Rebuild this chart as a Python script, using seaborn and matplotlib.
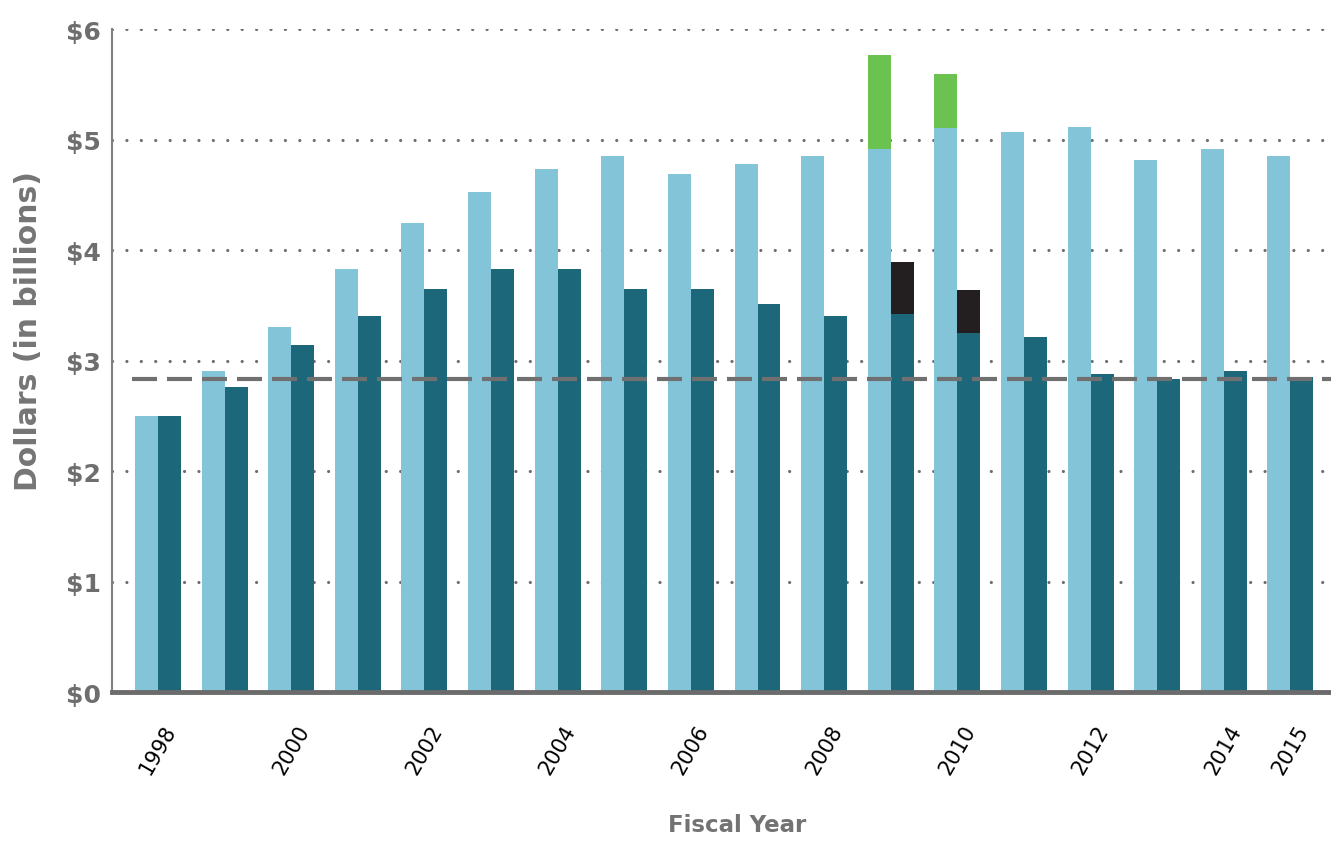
import pandas as pd
import seaborn as sns
import matplotlib.pyplot as plt

# Funding per fiscal year, dollars in billions
years = list(range(1998, 2016))
nominal = [2.50, 2.91, 3.31, 3.83, 4.25, 4.53, 4.74, 4.85, 4.69, 4.78,
           4.85, 4.92, 5.11, 5.07, 5.12, 4.82, 4.92, 4.85]
adjusted = [2.50, 2.76, 3.14, 3.41, 3.65, 3.83, 3.83, 3.65, 3.65, 3.51,
            3.41, 3.42, 3.25, 3.22, 2.88, 2.84, 2.91, 2.85]

# Recovery Act years: total including the extra funding
arra_years = [2009, 2010]
arra_nominal_total = [5.77, 5.60]
arra_adjusted_total = [3.89, 3.64]

reference_level = 2.84
tick_years = [1998, 2000, 2002, 2004, 2006, 2008, 2010, 2012, 2014, 2015]
y_ticks = [0, 1, 2, 3, 4, 5, 6]

LIGHT = "#83c4d8"
DARK = "#1d677b"
GREEN = "#6cc250"
BLACK = "#231f20"
GRAY = "#6e6e6e"

series_order = ["Nominal", "Adjusted"]
year_labels = [str(y) for y in years]

base = pd.DataFrame({
    "year": year_labels * 2,
    "series": ["Nominal"] * len(years) + ["Adjusted"] * len(years),
    "value": nominal + adjusted,
})
extra = pd.DataFrame({
    "year": [str(y) for y in arra_years] * 2,
    "series": ["Nominal"] * len(arra_years) + ["Adjusted"] * len(arra_years),
    "value": arra_nominal_total + arra_adjusted_total,
})

sns.set_theme(style="white")
plt.rcParams["font.family"] = ["DejaVu Sans"]

fig = plt.figure(figsize=(13.31, 8.45), dpi=100)
ax = fig.add_axes([0.0844, 0.1795, 0.9156, 0.7846])

# tops first, then the base bars drawn over them
sns.barplot(data=extra, x="year", y="value", hue="series", order=year_labels,
            hue_order=series_order, palette=[GREEN, BLACK], width=0.69,
            saturation=1, errorbar=None, legend=False, linewidth=0, ax=ax)
sns.barplot(data=base, x="year", y="value", hue="series", order=year_labels,
            hue_order=series_order, palette=[LIGHT, DARK], width=0.69,
            saturation=1, errorbar=None, legend=False, linewidth=0, ax=ax)

ax.axhline(reference_level, xmin=0.016, xmax=1, color="#707070", lw=3,
           linestyle=(0, (6, 2.4)), zorder=5)

ax.set_xlim(-0.686, 17.61)
ax.set_ylim(0, 6)

ax.set_axisbelow(True)
ax.grid(axis="y", color=GRAY, linewidth=2.3, linestyle=(0, (0.01, 4.5)),
        dash_capstyle="round")
ax.grid(axis="x", visible=False)

ax.set_yticks(y_ticks, [f"${v}" for v in y_ticks])
ax.set_xticks([years.index(y) for y in tick_years], [str(y) for y in tick_years],
              rotation=60, ha="center")
ax.tick_params(axis="y", length=0, pad=8, labelsize=18, labelcolor=GRAY)
ax.tick_params(axis="x", length=0, pad=21, labelsize=15, labelcolor="black")
for lab in ax.get_yticklabels():
    lab.set_fontweight("bold")

sns.despine(ax=ax)
ax.spines["bottom"].set_color("#6b6b6b")
ax.spines["bottom"].set_linewidth(3.5)
ax.spines["left"].set_color("#808080")
ax.spines["left"].set_linewidth(1.5)

ax.set_ylabel("Dollars (in billions)", fontsize=21.5, fontweight="bold", color="#757575")
ax.yaxis.label.set_va("center")
ax.yaxis.set_label_coords(-0.069, 0.546)
ax.set_xlabel("Fiscal Year", fontsize=16.5, fontweight="bold", color="#737373")
ax.xaxis.label.set_va("center")
ax.xaxis.set_label_coords(0.513, -0.200)

fig.savefig("out.png", dpi=100)
